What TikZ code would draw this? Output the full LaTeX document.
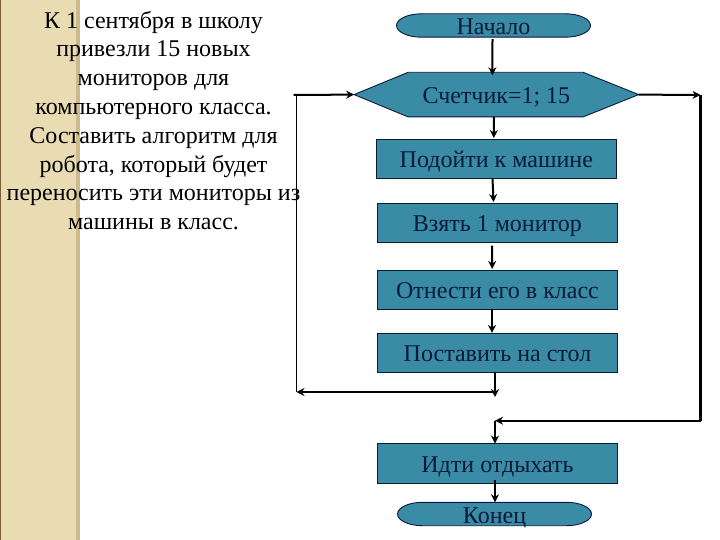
\documentclass[tikz,border=0pt]{standalone}
\usepackage{fontspec}
\setmainfont{Liberation Serif}
\usetikzlibrary{arrows.meta}
\definecolor{tealbox}{HTML}{3A8BA6}
\definecolor{inkbox}{HTML}{0A1A38}
\definecolor{beigeband}{HTML}{EADCB2}
\definecolor{beigeedge}{HTML}{CDB98C}
\definecolor{brownedge}{HTML}{7A5F36}
\tikzset{
  x=1pt,y=-1pt,
  flowtext/.style={text=inkbox,font=\fontsize{24}{25}\selectfont,inner sep=0pt,outer sep=0pt},
  flowshape/.style={draw=inkbox,line width=0.9pt,fill=tealbox},
  procbox/.style={flowtext,flowshape,rectangle,minimum width=240pt,minimum height=39.5pt},
  termbox/.style={flowtext,rectangle,minimum width=194pt,minimum height=23.4pt},
  cyclebox/.style={flowtext,rectangle,minimum width=284.5pt,minimum height=44.6pt},
  thickarrow/.style={draw=black,line width=2pt,-{Stealth[length=8pt,width=8pt]}},
  thinline/.style={draw=black,line width=1.1pt},
  heavyline/.style={draw=black,line width=2.4pt},
  tasktext/.style={align=center,text=black,font=\fontsize{24}{28.8}\selectfont,inner sep=0pt}
}
\newcommand{\termback}[1]{\path[flowshape] ([xshift=-72pt,yshift=11.7pt]#1) -- ([xshift=72pt,yshift=11.7pt]#1) arc[start angle=90,end angle=-90,x radius=25,y radius=-11.7] -- ([xshift=-72pt,yshift=-11.7pt]#1) arc[start angle=270,end angle=90,x radius=25,y radius=-11.7] -- cycle;}
\newcommand{\flowlabel}[1]{\raisebox{-9pt}[0pt][0pt]{#1}}
\begin{document}
\begin{tikzpicture}
\useasboundingbox (0,0) rectangle (720,540);
\fill[white] (0,0) rectangle (720,540);
\fill[beigeband] (0,0) rectangle (79,540);
\fill[beigeedge] (76,0) rectangle (80,540);
\fill[brownedge] (0,0) rectangle (1.2,540);

\node[tasktext] (task) at (153.5,120.5) {К 1 сентября в школу\\привезли 15 новых\\мониторов для\\компьютерного класса.\\Составить алгоритм для\\робота, который будет\\переносить эти мониторы из\\машины в класс.};

\coordinate (startc) at (493.5,25.5);
\coordinate (stopc) at (494.5,514);
\coordinate (cyclec) at (496.4,94.6);
\termback{startc}
\termback{stopc}
\path[flowshape] ([xshift=-142.3pt]cyclec) -- ([xshift=-88.3pt,yshift=22.3pt]cyclec) -- ([xshift=86.7pt,yshift=22.3pt]cyclec) -- ([xshift=142.3pt]cyclec) -- ([xshift=86.7pt,yshift=-22.3pt]cyclec) -- ([xshift=-88.3pt,yshift=-22.3pt]cyclec) -- cycle;

\node[termbox] (start) at (startc) {\flowlabel{Начало}};
\node[cyclebox] (cycle) at (cyclec) {\flowlabel{Счетчик=1; 15}};
\node[procbox] (go) at (496.3,158.8) {\flowlabel{Подойти к машине}};
\node[procbox] (take) at (497.3,222.8) {\flowlabel{Взять 1 монитор}};
\node[procbox] (carry) at (497.5,289.7) {\flowlabel{Отнести его в класс}};
\node[procbox] (put) at (497.5,352.7) {\flowlabel{Поставить на стол}};
\node[procbox] (rest) at (497.5,463.3) {\flowlabel{Идти отдыхать}};
\node[termbox] (stop) at (stopc) {\flowlabel{Конец}};

\coordinate (loopend) at (495,392);
\coordinate (loopcorner) at (296.5,392);
\coordinate (loopturn) at (296.5,95);
\coordinate (exitturn) at (700.5,95);
\coordinate (exitcorner) at (700.5,420.7);
\coordinate (exitend) at (495,420.7);

\draw[thickarrow] ([xshift=-1pt,yshift=-2pt]start.south) -- ([xshift=-4pt,yshift=-3pt]cycle.north);
\draw[thickarrow] ([xshift=-2.5pt]cycle.south) -- ([xshift=-2.5pt,yshift=1pt]go.north);
\draw[thickarrow] ([xshift=-3.8pt]go.south) -- ([xshift=-3.8pt,yshift=1pt]take.north);
\draw[thickarrow] ([xshift=-5.3pt,yshift=-3pt]take.south) -- ([xshift=-5.3pt,yshift=1pt]carry.north);
\draw[thickarrow] ([xshift=-5.5pt]carry.south) -- ([xshift=-5.5pt]put.north);
\draw[thickarrow] ([xshift=-2.5pt]put.south) -- ([yshift=-5pt]loopend);
\draw[thickarrow] (loopend) -- (loopcorner);
\draw[thinline] (loopcorner) -- (loopturn);
\draw[thickarrow] ([xshift=-3pt]loopturn) -- (cycle.west);
\draw[thickarrow] (cycle.east) -- (exitturn);
\draw[heavyline] (exitturn) -- (exitcorner);
\draw[thickarrow] (exitcorner) -- (exitend);
\draw[thickarrow] (exitend) -- ([xshift=-2.5pt]rest.north);
\draw[thickarrow] ([xshift=-2.5pt,yshift=3pt]rest.south) -- ([xshift=0.5pt]stop.north);
\end{tikzpicture}
\end{document}
